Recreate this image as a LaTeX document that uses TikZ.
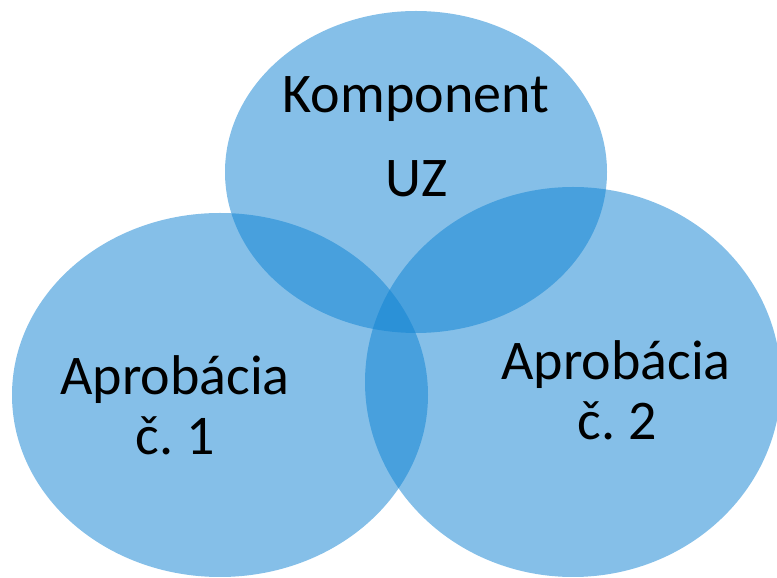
\documentclass[tikz,border=0pt]{standalone}
\usepackage{fontspec}
\setmainfont{Carlito}
\definecolor{vennblue}{RGB}{15,130,210}
\begin{document}
\frenchspacing
\begin{tikzpicture}[x=1pt,y=1pt,
  blob/.style={fill=vennblue,fill opacity=0.51},
  lbl/.style={anchor=base,inner sep=0pt,font=\fontsize{56}{60}\selectfont,text=black}]
\useasboundingbox (0,0) rectangle (777,578);
\fill[blob] (416,406) ellipse [x radius=191,y radius=161];
\fill[blob] (220,183) ellipse [x radius=208,y radius=182];
\fill[blob] (573,196) ellipse [x radius=208,y radius=195];
\node[lbl] (k1) at (416,465) {Komponent};
\node[lbl] (k2) at (417,381) {UZ};
\node[lbl] (a1) at (175,183) {Aprobácia};
\node[lbl] (a1b) at (175,123) {č.\ 1};
\node[lbl] (a2) at (616,198) {Aprobácia};
\node[lbl] (a2b) at (617,138) {č.\ 2};
\end{tikzpicture}
\end{document}
